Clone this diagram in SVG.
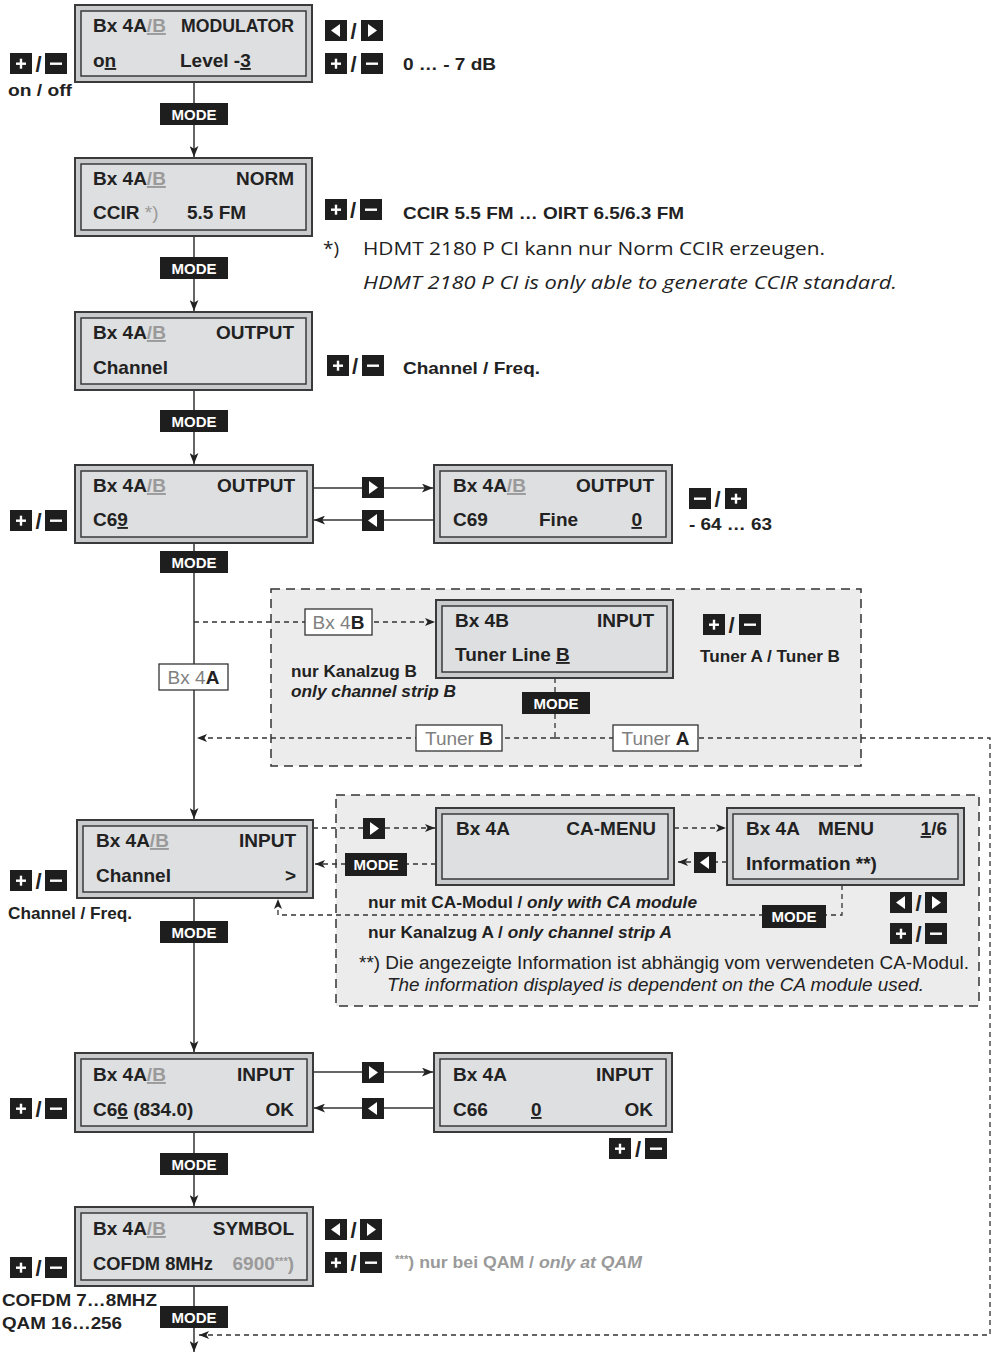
<svg xmlns="http://www.w3.org/2000/svg" xmlns:xlink="http://www.w3.org/1999/xlink" width="997" height="1354" viewBox="0 0 997 1354">
<style>
.d{font-family:"Liberation Sans",Arial,sans-serif;font-weight:bold;font-size:19px;fill:#222}
.g{fill:#9a9a9a}
.u{text-decoration:underline}
.lb{font-family:"Liberation Sans",Arial,sans-serif;font-weight:bold;font-size:17px;fill:#222}
.it{font-style:italic}
.mt{font-family:"Liberation Sans",Arial,sans-serif;font-weight:bold;font-size:15px;fill:#fff;text-anchor:middle}
.sl{font-family:"Liberation Sans",Arial,sans-serif;font-weight:bold;font-size:22px;fill:#222;text-anchor:middle}
.fut{font-family:"Open Sans","Noto Sans",sans-serif;font-size:19px;fill:#222}
.dash{stroke:#333;stroke-width:1.3;stroke-dasharray:5,4;fill:none}
.sol{stroke:#333;stroke-width:1.5;fill:none}
.region{fill:#ececec;stroke:#333;stroke-width:1.5;stroke-dasharray:9,6}
.tag{fill:#fff;stroke:#333;stroke-width:1.3}
.tagt{font-family:"Liberation Sans",Arial,sans-serif;font-size:19px;fill:#808080;text-anchor:middle}
.tagt tspan{font-weight:bold;fill:#222}
.ob{fill:#c9cacb;stroke:#3a3a3a;stroke-width:2}
.ib{fill:#dedfe0;stroke:#3a3a3a;stroke-width:1.5}
.key{fill:#1e1e1e}
</style>
<defs>
<marker id="ah" viewBox="0 0 10 8" refX="10" refY="4" markerWidth="11" markerHeight="9" markerUnits="userSpaceOnUse" orient="auto"><path d="M0,0 L10,4 L0,8 L2.5,4 z" fill="#222"/></marker>
<marker id="ahs" viewBox="0 0 10 8" refX="10" refY="4" markerWidth="10" markerHeight="8" markerUnits="userSpaceOnUse" orient="auto"><path d="M0,0 L10,4 L0,8 L2.5,4 z" fill="#222"/></marker>
<g id="kp"><rect class="key" width="22" height="21"/><rect x="6" y="9.5" width="10" height="2.4" fill="#fff"/><rect x="9.8" y="5.7" width="2.4" height="10" fill="#fff"/></g>
<g id="km"><rect class="key" width="22" height="21"/><rect x="5" y="9.5" width="12" height="2.4" fill="#fff"/></g>
<g id="kl"><rect class="key" width="22" height="21"/><path d="M15,4 L15,17 L6,10.5 z" fill="#fff"/></g>
<g id="kr"><rect class="key" width="22" height="21"/><path d="M7,4 L7,17 L16,10.5 z" fill="#fff"/></g>
</defs>
<rect width="997" height="1354" fill="#fff"/>

<!-- dashed regions -->
<rect class="region" x="271" y="589" width="590" height="177"/>
<rect class="region" x="336" y="795" width="643" height="211"/>

<g id="connectors">
<path class="sol" d="M194,82 V157" marker-end="url(#ah)"/>
<path class="sol" d="M194,236 V311" marker-end="url(#ah)"/>
<path class="sol" d="M194,390 V464" marker-end="url(#ah)"/>
<path class="sol" d="M194,543 V819" marker-end="url(#ah)"/>
<path class="sol" d="M194,898 V1052" marker-end="url(#ah)"/>
<path class="sol" d="M194,1132 V1206" marker-end="url(#ah)"/>
<path class="sol" d="M194,1286 V1352" marker-end="url(#ah)"/>
<path class="sol" d="M313,488 H433" marker-end="url(#ah)"/>
<path class="sol" d="M434,520 H314" marker-end="url(#ah)"/>
<path class="sol" d="M313,1072 H433" marker-end="url(#ah)"/>
<path class="sol" d="M434,1108 H314" marker-end="url(#ah)"/>
<path class="dash" d="M194,622 H435" marker-end="url(#ahs)"/>
<path class="dash" d="M555,678 V738"/>
<path class="dash" d="M555,738 H197" marker-end="url(#ahs)"/>
<path class="dash" d="M555,738 H990 V1335 H199" marker-end="url(#ahs)"/>
<path class="dash" d="M313,828 H435" marker-end="url(#ahs)"/>
<path class="dash" d="M436,864 H315" marker-end="url(#ahs)"/>
<path class="dash" d="M674,828 H726" marker-end="url(#ahs)"/>
<path class="dash" d="M727,862 H678" marker-end="url(#ahs)"/>
<path class="dash" d="M842,885 V915 H278 V899" marker-end="url(#ahs)"/>
</g>

<g id="tags">
<rect class="tag" x="305" y="609" width="67" height="26"/><text class="tagt" x="338.5" y="629">Bx 4<tspan>B</tspan></text>
<rect class="tag" x="159" y="664" width="69" height="26"/><text class="tagt" x="193.5" y="684">Bx 4<tspan>A</tspan></text>
<rect class="tag" x="416" y="725" width="86" height="26"/><text class="tagt" x="459" y="745">Tuner <tspan>B</tspan></text>
<rect class="tag" x="613" y="725" width="85" height="26"/><text class="tagt" x="655.5" y="745">Tuner <tspan>A</tspan></text>
</g>

<g id="mode-keys">
<rect class="key" x="160" y="103" width="68" height="22"/><text class="mt" x="194" y="119.5">MODE</text>
<rect class="key" x="160" y="257" width="68" height="22"/><text class="mt" x="194" y="273.5">MODE</text>
<rect class="key" x="160" y="410" width="68" height="22"/><text class="mt" x="194" y="426.5">MODE</text>
<rect class="key" x="160" y="551" width="68" height="22"/><text class="mt" x="194" y="567.5">MODE</text>
<rect class="key" x="522" y="692" width="68" height="22"/><text class="mt" x="556" y="708.5">MODE</text>
<rect class="key" x="345" y="853" width="62" height="23"/><text class="mt" x="376" y="870">MODE</text>
<rect class="key" x="762" y="905" width="64" height="23"/><text class="mt" x="794" y="922">MODE</text>
<rect class="key" x="160" y="921" width="68" height="22"/><text class="mt" x="194" y="937.5">MODE</text>
<rect class="key" x="160" y="1153" width="68" height="22"/><text class="mt" x="194" y="1169.5">MODE</text>
<rect class="key" x="160" y="1306" width="68" height="22"/><text class="mt" x="194" y="1322.5">MODE</text>
</g>

<g id="arrow-keys">
<use xlink:href="#kl" x="325" y="20"/><text class="sl" x="353.5" y="39">/</text><use xlink:href="#kr" x="361" y="20"/>
<use xlink:href="#kr" x="362" y="477"/>
<use xlink:href="#kl" x="362" y="510"/>
<use xlink:href="#kr" x="363" y="818"/>
<use xlink:href="#kl" x="694" y="852"/>
<use xlink:href="#kl" x="890" y="892"/><text class="sl" x="918.5" y="911">/</text><use xlink:href="#kr" x="925" y="892"/>
<use xlink:href="#kr" x="362" y="1062"/>
<use xlink:href="#kl" x="362" y="1098"/>
<use xlink:href="#kl" x="325" y="1219"/><text class="sl" x="353.5" y="1238">/</text><use xlink:href="#kr" x="360" y="1219"/>
</g>

<g id="plusminus-keys">
<use xlink:href="#kp" x="10" y="53"/><text class="sl" x="38.5" y="72">/</text><use xlink:href="#km" x="45" y="53"/>
<use xlink:href="#kp" x="325" y="53"/><text class="sl" x="353.5" y="72">/</text><use xlink:href="#km" x="361" y="53"/>
<use xlink:href="#kp" x="325" y="199"/><text class="sl" x="353" y="218">/</text><use xlink:href="#km" x="360" y="199"/>
<use xlink:href="#kp" x="327" y="355"/><text class="sl" x="355" y="374">/</text><use xlink:href="#km" x="362" y="355"/>
<use xlink:href="#kp" x="10" y="510"/><text class="sl" x="38.5" y="529">/</text><use xlink:href="#km" x="45" y="510"/>
<use xlink:href="#km" x="689" y="488"/><text class="sl" x="717.5" y="507">/</text><use xlink:href="#kp" x="725" y="488"/>
<use xlink:href="#kp" x="703" y="614"/><text class="sl" x="731.5" y="633">/</text><use xlink:href="#km" x="739" y="614"/>
<use xlink:href="#kp" x="10" y="870"/><text class="sl" x="38.5" y="889">/</text><use xlink:href="#km" x="45" y="870"/>
<use xlink:href="#kp" x="890" y="923"/><text class="sl" x="918.5" y="942">/</text><use xlink:href="#km" x="925" y="923"/>
<use xlink:href="#kp" x="10" y="1098"/><text class="sl" x="38.5" y="1117">/</text><use xlink:href="#km" x="45" y="1098"/>
<use xlink:href="#kp" x="609" y="1138"/><text class="sl" x="638" y="1157">/</text><use xlink:href="#km" x="645" y="1138"/>
<use xlink:href="#kp" x="325" y="1252"/><text class="sl" x="353.5" y="1271">/</text><use xlink:href="#km" x="360" y="1252"/>
<use xlink:href="#kp" x="10" y="1257"/><text class="sl" x="38.5" y="1276">/</text><use xlink:href="#km" x="45" y="1257"/>
</g>

<g id="box-modulator">
<rect class="ob" x="75" y="5" width="237" height="77"/><rect class="ib" x="81" y="11" width="225" height="65"/>
<text class="d" x="93" y="32">Bx 4A<tspan class="g u">/B</tspan></text>
<text class="d" x="294" y="32" text-anchor="end" textLength="113" lengthAdjust="spacingAndGlyphs">MODULATOR</text>
<text class="d" x="93" y="67">o<tspan class="u">n</tspan></text>
<text class="d" x="180" y="67">Level -<tspan class="u">3</tspan></text>
</g>

<g id="box-norm">
<rect class="ob" x="75" y="158" width="237" height="78"/><rect class="ib" x="81" y="164" width="225" height="66"/>
<text class="d" x="93" y="185">Bx 4A<tspan class="g u">/B</tspan></text>
<text class="d" x="294" y="185" text-anchor="end">NORM</text>
<text class="d" x="93" y="219">CCIR <tspan class="g" font-weight="normal">*)</tspan></text>
<text class="d" x="187" y="219">5.5  FM</text>
</g>

<g id="box-output-channel">
<rect class="ob" x="75" y="312" width="237" height="78"/><rect class="ib" x="81" y="318" width="225" height="66"/>
<text class="d" x="93" y="339">Bx 4A<tspan class="g u">/B</tspan></text>
<text class="d" x="294" y="339" text-anchor="end">OUTPUT</text>
<text class="d" x="93" y="374">Channel</text>
</g>

<g id="box-output-c69">
<rect class="ob" x="75" y="465" width="238" height="78"/><rect class="ib" x="81" y="471" width="226" height="66"/>
<text class="d" x="93" y="492">Bx 4A<tspan class="g u">/B</tspan></text>
<text class="d" x="295" y="492" text-anchor="end">OUTPUT</text>
<text class="d" x="93" y="526">C6<tspan class="u">9</tspan></text>
</g>

<g id="box-output-fine">
<rect class="ob" x="434" y="465" width="238" height="78"/><rect class="ib" x="440" y="471" width="226" height="66"/>
<text class="d" x="453" y="492">Bx 4A<tspan class="g u">/B</tspan></text>
<text class="d" x="654" y="492" text-anchor="end">OUTPUT</text>
<text class="d" x="453" y="526">C69</text>
<text class="d" x="539" y="526">Fine</text>
<text class="d" x="642" y="526" text-anchor="end"><tspan class="u">0</tspan></text>
</g>

<g id="box-4b-input">
<rect class="ob" x="436" y="600" width="237" height="78"/><rect class="ib" x="442" y="606" width="225" height="66"/>
<text class="d" x="455" y="627">Bx 4B</text>
<text class="d" x="654" y="627" text-anchor="end">INPUT</text>
<text class="d" x="455" y="661">Tuner Line <tspan class="u">B</tspan></text>
</g>

<g id="box-input-channel">
<rect class="ob" x="77" y="820" width="236" height="78"/><rect class="ib" x="83" y="826" width="224" height="66"/>
<text class="d" x="96" y="847">Bx 4A<tspan class="g u">/B</tspan></text>
<text class="d" x="296" y="847" text-anchor="end">INPUT</text>
<text class="d" x="96" y="882">Channel</text>
<text class="d" x="296" y="882" text-anchor="end">&gt;</text>
</g>

<g id="box-ca-menu">
<rect class="ob" x="436" y="808" width="238" height="77"/><rect class="ib" x="442" y="814" width="226" height="65"/>
<text class="d" x="456" y="835">Bx 4A</text>
<text class="d" x="656" y="835" text-anchor="end">CA-MENU</text>
</g>

<g id="box-menu">
<rect class="ob" x="727" y="808" width="237" height="77"/><rect class="ib" x="733" y="814" width="225" height="65"/>
<text class="d" x="746" y="835">Bx 4A</text>
<text class="d" x="818" y="835">MENU</text>
<text class="d" x="947" y="835" text-anchor="end"><tspan class="u">1</tspan>/6</text>
<text class="d" x="746" y="870">Information **)</text>
</g>

<g id="box-input-c66">
<rect class="ob" x="75" y="1053" width="238" height="79"/><rect class="ib" x="81" y="1059" width="226" height="67"/>
<text class="d" x="93" y="1081">Bx 4A<tspan class="g u">/B</tspan></text>
<text class="d" x="294" y="1081" text-anchor="end">INPUT</text>
<text class="d" x="93" y="1116">C6<tspan class="u">6</tspan> (834.0)</text>
<text class="d" x="294" y="1116" text-anchor="end">OK</text>
</g>

<g id="box-input-c66-fine">
<rect class="ob" x="434" y="1053" width="238" height="79"/><rect class="ib" x="440" y="1059" width="226" height="67"/>
<text class="d" x="453" y="1081">Bx 4A</text>
<text class="d" x="653" y="1081" text-anchor="end">INPUT</text>
<text class="d" x="453" y="1116">C66</text>
<text class="d" x="531" y="1116"><tspan class="u">0</tspan></text>
<text class="d" x="653" y="1116" text-anchor="end">OK</text>
</g>

<g id="box-symbol">
<rect class="ob" x="75" y="1207" width="238" height="79"/><rect class="ib" x="81" y="1213" width="226" height="67"/>
<text class="d" x="93" y="1235">Bx 4A<tspan class="g u">/B</tspan></text>
<text class="d" x="294" y="1235" text-anchor="end">SYMBOL</text>
<text class="d" x="93" y="1270" textLength="120" lengthAdjust="spacingAndGlyphs">COFDM 8MHz</text>
<text class="d g" x="294" y="1270" text-anchor="end">6900<tspan font-size="11" dy="-5">***</tspan><tspan dy="5">)</tspan></text>
</g>

<g id="labels">
<text class="lb" x="8" y="96" font-size="18" textLength="64" lengthAdjust="spacingAndGlyphs">on / off</text>
<text class="lb" x="403" y="70" font-size="18" textLength="93" lengthAdjust="spacingAndGlyphs">0 … - 7 dB</text>
<text class="lb" x="403" y="219" font-size="17" textLength="281" lengthAdjust="spacingAndGlyphs">CCIR 5.5 FM … OIRT 6.5/6.3 FM</text>
<text class="fut" x="323" y="255">*)</text>
<text class="fut" x="363" y="255" textLength="462" lengthAdjust="spacingAndGlyphs">HDMT 2180 P CI kann nur Norm CCIR erzeugen.</text>
<text class="fut it" x="363" y="289" textLength="534" lengthAdjust="spacingAndGlyphs">HDMT 2180 P CI is only able to generate CCIR standard.</text>
<text class="lb" x="403" y="374" font-size="18" textLength="137" lengthAdjust="spacingAndGlyphs">Channel / Freq.</text>
<text class="lb" x="689" y="530" font-size="18" textLength="83" lengthAdjust="spacingAndGlyphs">- 64 … 63</text>
<text class="lb" x="700" y="662" textLength="140" lengthAdjust="spacingAndGlyphs">Tuner A / Tuner B</text>
<text class="lb" x="291" y="677" textLength="126" lengthAdjust="spacingAndGlyphs">nur Kanalzug B</text>
<text class="lb it" x="291" y="697" textLength="165" lengthAdjust="spacingAndGlyphs">only channel strip B</text>
<text class="lb" x="8" y="919" textLength="124" lengthAdjust="spacingAndGlyphs">Channel / Freq.</text>
<text class="lb" x="368" y="908" textLength="329" lengthAdjust="spacingAndGlyphs">nur mit CA-Modul / <tspan class="it">only with CA module</tspan></text>
<text class="lb" x="368" y="938" textLength="304" lengthAdjust="spacingAndGlyphs">nur Kanalzug A / <tspan class="it">only channel strip A</tspan></text>
<text x="359" y="969" font-family="Liberation Sans, Arial, sans-serif" font-size="18" fill="#222" textLength="610" lengthAdjust="spacingAndGlyphs">**) Die angezeigte Information ist abhängig vom verwendeten CA-Modul.</text>
<text x="387" y="991" font-family="Liberation Sans, Arial, sans-serif" font-size="18" font-style="italic" fill="#222" textLength="537" lengthAdjust="spacingAndGlyphs">The information displayed is dependent on the CA module used.</text>
<text class="lb" x="395" y="1268" style="fill:#9a9a9a" textLength="247" lengthAdjust="spacingAndGlyphs"><tspan font-size="11" dy="-5">***</tspan><tspan dy="5">) nur bei QAM / </tspan><tspan class="it">only at QAM</tspan></text>
<text class="lb" x="2" y="1306" font-size="17" textLength="155" lengthAdjust="spacingAndGlyphs">COFDM 7…8MHZ</text>
<text class="lb" x="2" y="1329" font-size="17" textLength="120" lengthAdjust="spacingAndGlyphs">QAM 16…256</text>
</g>
</svg>
